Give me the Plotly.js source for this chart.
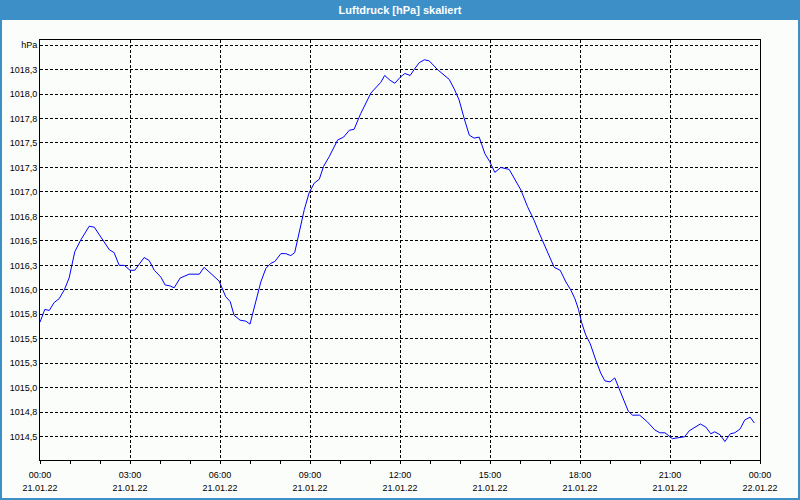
<!DOCTYPE html>
<html>
<head>
<meta charset="utf-8">
<script src="https://cdn.plot.ly/plotly-3.0.1.min.js"></script>
<style>
  html, body { margin: 0; padding: 0; background: #fbfdfb; }
  #chart { width: 800px; height: 500px; }
</style>
</head>
<body>
<div id="chart"></div>
<script>
// Hours after 21.01.22 00:00
const hours = [0,0.16,0.31,0.47,0.64,0.81,0.97,1.16,1.36,1.64,1.81,2.08,2.31,2.47,2.64,2.81,3.0,3.16,3.47,3.64,3.81,4.03,4.17,4.34,4.47,4.67,4.97,5.31,5.47,5.97,
  6.19,6.34,6.47,6.67,6.86,7.0,7.16,7.36,7.53,7.69,7.83,8.03,8.19,8.36,8.49,8.64,8.81,8.97,9.14,9.31,9.45,9.64,9.92,10.12,10.31,10.47,10.69,11.03,11.36,11.49,11.67,11.83,12.0,
  12.16,12.34,12.47,12.64,12.81,12.97,13.25,13.42,13.64,13.81,13.97,14.14,14.31,14.47,14.64,14.83,14.99,15.16,15.36,15.64,15.81,16.03,16.25,16.47,16.64,16.81,16.97,17.14,17.34,17.53,17.69,17.83,
  17.95,18.05,18.19,18.34,18.53,18.69,18.83,19.0,19.16,19.31,19.47,19.61,19.75,19.99,20.25,20.49,20.66,20.83,21.08,21.25,21.49,21.64,21.83,22.01,22.19,22.36,22.49,22.67,22.83,23.01,23.16,23.34,23.49,23.67,23.81];
// Luftdruck in hPa
const pressure = [1015.67,1015.80,1015.79,1015.87,1015.91,1016.00,1016.12,1016.39,1016.51,1016.65,1016.64,1016.51,1016.41,1016.38,1016.25,1016.25,1016.20,1016.20,1016.33,1016.30,1016.20,1016.13,1016.05,1016.04,1016.02,1016.12,1016.16,1016.16,1016.23,1016.09,
  1015.93,1015.88,1015.74,1015.69,1015.68,1015.65,1015.83,1016.08,1016.22,1016.27,1016.29,1016.37,1016.37,1016.35,1016.38,1016.58,1016.82,1016.99,1017.09,1017.13,1017.26,1017.36,1017.53,1017.56,1017.63,1017.64,1017.80,1018.01,1018.12,1018.19,1018.14,1018.11,1018.17,
  1018.21,1018.19,1018.25,1018.32,1018.35,1018.34,1018.25,1018.21,1018.15,1018.05,1017.94,1017.75,1017.58,1017.55,1017.56,1017.39,1017.31,1017.20,1017.25,1017.23,1017.14,1017.02,1016.85,1016.71,1016.58,1016.46,1016.34,1016.23,1016.20,1016.08,1016.00,1015.91,
  1015.80,1015.67,1015.54,1015.45,1015.28,1015.15,1015.07,1015.06,1015.10,1014.99,1014.88,1014.76,1014.72,1014.72,1014.65,1014.57,1014.54,1014.54,1014.48,1014.49,1014.50,1014.56,1014.60,1014.63,1014.60,1014.53,1014.55,1014.52,1014.45,1014.53,1014.54,1014.58,1014.67,1014.70,1014.64];

const yTickVals = [1014.5,1014.75,1015.0,1015.25,1015.5,1015.75,1016.0,1016.25,1016.5,1016.75,1017.0,1017.25,1017.5,1017.75,1018.0,1018.25,1018.5];
const yTickText = ['1014,5','1014,8','1015,0','1015,3','1015,5','1015,8','1016,0','1016,3','1016,5','1016,8','1017,0','1017,3','1017,5','1017,8','1018,0','1018,3','hPa'];
const chartTitle = 'Luftdruck [hPa] skaliert';

function pad(n){ return (n < 10 ? '0' : '') + n; }
function hourToDate(h){
  const totalSec = Math.round(h * 3600);
  const hh = Math.floor(totalSec / 3600), mm = Math.floor((totalSec % 3600) / 60), ss = totalSec % 60;
  return '2022-01-21 ' + pad(hh) + ':' + pad(mm) + ':' + pad(ss);
}
const times = hours.map(hourToDate);

const font = 'Liberation Sans, Arial, sans-serif';
const xRange = ['2022-01-21 00:00', '2022-01-22 00:00'];

const trace = {
  x: times, y: pressure, type: 'scatter', mode: 'lines',
  line: { color: '#0000ff', width: 1 }, hoverinfo: 'skip'
};
// same series bound to the date-label axis (invisible), so that axis is drawn
const dateAxisTrace = {
  x: times, y: pressure, type: 'scatter', mode: 'lines', xaxis: 'x2', yaxis: 'y',
  line: { color: 'rgba(0,0,0,0)', width: 0 }, hoverinfo: 'skip'
};

const layout = {
  width: 800, height: 500,
  margin: { l: 40, r: 40, t: 40, b: 40 },
  paper_bgcolor: '#fbfdfb', plot_bgcolor: '#fbfdfb',
  showlegend: false,
  title: { text: chartTitle, font: { family: font, size: 11, color: '#ffffff', weight: 'bold' },
           x: 0.5, xanchor: 'center', y: 0.98, yanchor: 'middle', yref: 'container' },
  xaxis: {
    type: 'date', range: xRange, tick0: '2022-01-21', dtick: 10800000,
    tickformat: '%H:%M', tickfont: { family: font, size: 9, color: '#000' },
    showline: true, linecolor: '#000', linewidth: 1, mirror: true,
    showgrid: true, gridcolor: '#000', gridwidth: 1, griddash: '3px,2px',
    ticks: 'outside', ticklen: 3, tickcolor: '#000', ticklabelstandoff: 3,
    minor: { dtick: 3600000, ticks: 'outside', ticklen: 3, tickcolor: '#000', showgrid: false },
    zeroline: false, fixedrange: true
  },
  xaxis2: {
    type: 'date', range: xRange, tick0: '2022-01-21', dtick: 10800000,
    overlaying: 'x', anchor: 'y', side: 'bottom',
    tickformat: '%d.%m.%y', tickfont: { family: font, size: 9, color: '#000' },
    showline: false, showgrid: false, ticks: '', ticklabelstandoff: 21, zeroline: false, fixedrange: true
  },
  yaxis: {
    range: [1014.262, 1018.552], tickmode: 'array', tickvals: yTickVals, ticktext: yTickText,
    tickfont: { family: font, size: 9, color: '#000' },
    showline: true, linecolor: '#000', linewidth: 1, mirror: true,
    showgrid: true, gridcolor: '#000', gridwidth: 1, griddash: '3px,2px',
    ticks: '', zeroline: false, fixedrange: true
  },
  shapes: [
    { type: 'rect', xref: 'paper', yref: 'paper', layer: 'below',
      x0: -40/720, x1: 1 + 40/720, y0: 1 + 20/420, y1: 1 + 40/420,
      fillcolor: '#3d8fc7', line: { width: 0 } },
    { type: 'rect', xref: 'paper', yref: 'paper', layer: 'above',
      x0: -39/720, x1: 1 + 39/720, y0: -39/420, y1: 1 + 39/420,
      fillcolor: 'rgba(0,0,0,0)', line: { color: '#3d8fc7', width: 2 } }
  ]
};

Plotly.newPlot('chart', [trace, dateAxisTrace], layout, { staticPlot: true, displayModeBar: false });
</script>
</body>
</html>
